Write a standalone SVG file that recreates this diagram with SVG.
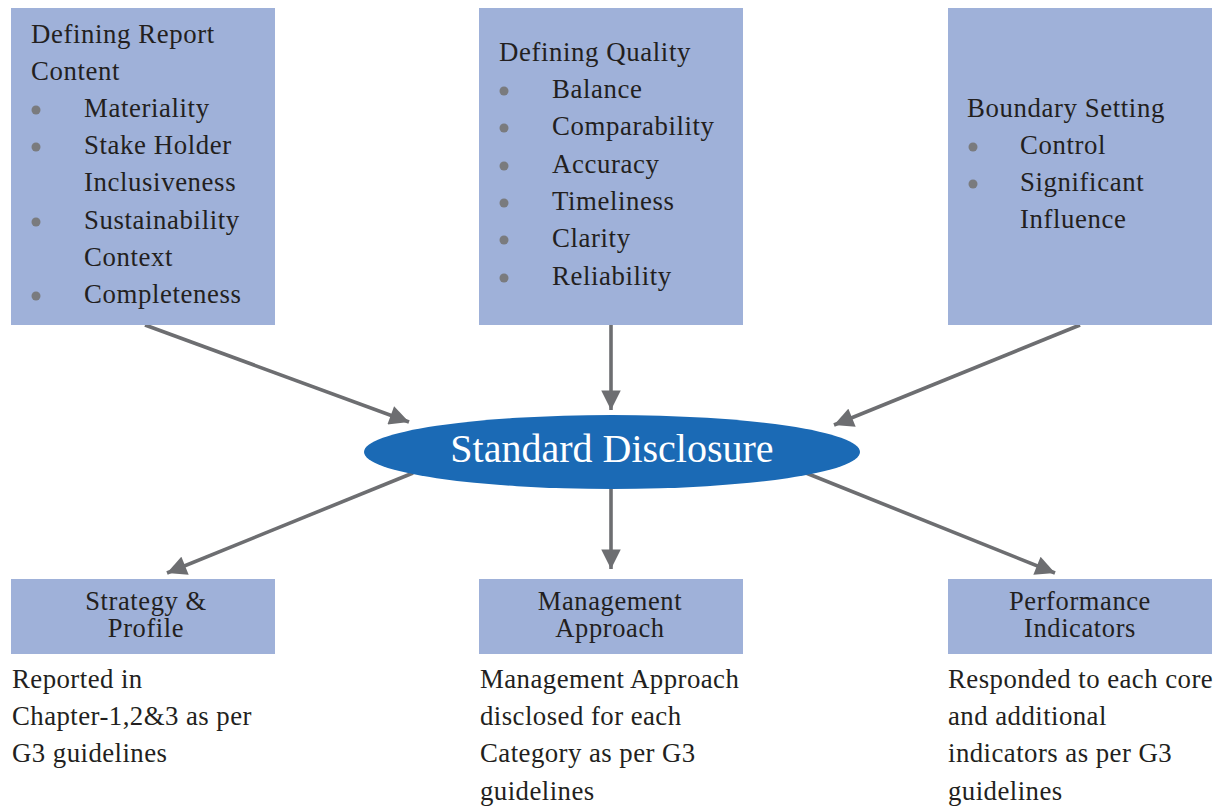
<svg xmlns="http://www.w3.org/2000/svg" width="1219" height="808" viewBox="0 0 1219 808">
  <defs>
    <marker id="arrow" viewBox="0 0 10 10" refX="10" refY="5" markerWidth="6" markerHeight="5.4" markerUnits="strokeWidth" orient="auto">
      <path d="M0,0 L10,5 L0,10 Z" fill="#6d6e71"/>
    </marker>
    <style>
      .box { fill: #9fb1d9; }
      .txt { font-family: "Liberation Serif", "Times New Roman", serif; font-size: 26.8px; letter-spacing: 0.6px; fill: #231f20; }
      .lbl { font-family: "Liberation Serif", "Times New Roman", serif; font-size: 26.5px; letter-spacing: 0.6px; fill: #231f20; text-anchor: middle; }
      .note { font-family: "Liberation Serif", "Times New Roman", serif; font-size: 26.8px; letter-spacing: 0.45px; fill: #231f20; }
      .dot { fill: #7a7b7e; }
      .conn { stroke: #6d6e71; stroke-width: 3.6; fill: none; marker-end: url(#arrow); }
    </style>
  </defs>
  <rect width="1219" height="808" fill="#ffffff"/>

  <!-- connectors -->
  <g id="connectors">
    <line class="conn" x1="145" y1="325" x2="409" y2="422"/>
    <line class="conn" x1="611" y1="325" x2="611" y2="410"/>
    <line class="conn" x1="1080" y1="325" x2="834" y2="425"/>
    <line class="conn" x1="413" y1="473" x2="167" y2="573"/>
    <line class="conn" x1="611" y1="488" x2="611" y2="569"/>
    <line class="conn" x1="806" y1="473" x2="1055" y2="573"/>
  </g>

  <!-- top-left: report content -->
  <g id="report-content">
    <rect class="box" x="11" y="8" width="264" height="317"/>
    <text class="txt" x="31" y="43">Defining Report</text>
    <text class="txt" x="31" y="80">Content</text>
    <circle class="dot" cx="36" cy="110" r="4.5"/>
    <text class="txt" x="84" y="117">Materiality</text>
    <circle class="dot" cx="36" cy="147" r="4.5"/>
    <text class="txt" x="84" y="154">Stake Holder</text>
    <text class="txt" x="84" y="191">Inclusiveness</text>
    <circle class="dot" cx="36" cy="222" r="4.5"/>
    <text class="txt" x="84" y="229">Sustainability</text>
    <text class="txt" x="84" y="266">Context</text>
    <circle class="dot" cx="36" cy="296" r="4.5"/>
    <text class="txt" x="84" y="303">Completeness</text>
  </g>

  <!-- top-middle: quality -->
  <g id="quality">
    <rect class="box" x="479" y="8" width="264" height="317"/>
    <text class="txt" x="499" y="61">Defining Quality</text>
    <circle class="dot" cx="504" cy="91" r="4.5"/>
    <text class="txt" x="552" y="98">Balance</text>
    <circle class="dot" cx="504" cy="128" r="4.5"/>
    <text class="txt" x="552" y="135">Comparability</text>
    <circle class="dot" cx="504" cy="166" r="4.5"/>
    <text class="txt" x="552" y="173">Accuracy</text>
    <circle class="dot" cx="504" cy="203" r="4.5"/>
    <text class="txt" x="552" y="210">Timeliness</text>
    <circle class="dot" cx="504" cy="240" r="4.5"/>
    <text class="txt" x="552" y="247">Clarity</text>
    <circle class="dot" cx="504" cy="278" r="4.5"/>
    <text class="txt" x="552" y="285">Reliability</text>
  </g>

  <!-- top-right: boundary -->
  <g id="boundary">
    <rect class="box" x="948" y="8" width="264" height="317"/>
    <text class="txt" x="967" y="117">Boundary Setting</text>
    <circle class="dot" cx="973" cy="147" r="4.5"/>
    <text class="txt" x="1020" y="154">Control</text>
    <circle class="dot" cx="973" cy="184" r="4.5"/>
    <text class="txt" x="1020" y="191">Significant</text>
    <text class="txt" x="1020" y="228">Influence</text>
  </g>

  <!-- centre -->
  <g id="standard-disclosure">
    <ellipse cx="612" cy="452" rx="248" ry="37" fill="#1b6ab5"/>
    <text x="612" y="462" text-anchor="middle" font-family="'Liberation Serif', 'Times New Roman', serif" font-size="40" fill="#ffffff">Standard Disclosure</text>
  </g>

  <!-- bottom-left -->
  <g id="strategy-profile">
    <rect class="box" x="11" y="579" width="264" height="75"/>
    <text class="lbl" x="146" y="610">Strategy &amp;</text>
    <text class="lbl" x="146" y="637">Profile</text>
    <text class="note" x="12" y="688">Reported in</text>
    <text class="note" x="12" y="725">Chapter-1,2&amp;3 as per</text>
    <text class="note" x="12" y="762">G3 guidelines</text>
  </g>

  <!-- bottom-middle -->
  <g id="management-approach">
    <rect class="box" x="479" y="579" width="264" height="75"/>
    <text class="lbl" x="610" y="610">Management</text>
    <text class="lbl" x="610" y="637">Approach</text>
    <text class="note" x="480" y="688">Management Approach</text>
    <text class="note" x="480" y="725">disclosed for each</text>
    <text class="note" x="480" y="762">Category as per G3</text>
    <text class="note" x="480" y="800">guidelines</text>
  </g>

  <!-- bottom-right -->
  <g id="performance-indicators">
    <rect class="box" x="948" y="579" width="264" height="75"/>
    <text class="lbl" x="1080" y="610">Performance</text>
    <text class="lbl" x="1080" y="637">Indicators</text>
    <text class="note" x="948" y="688">Responded to each core</text>
    <text class="note" x="948" y="725">and additional</text>
    <text class="note" x="948" y="762">indicators as per G3</text>
    <text class="note" x="948" y="800">guidelines</text>
  </g>
</svg>
